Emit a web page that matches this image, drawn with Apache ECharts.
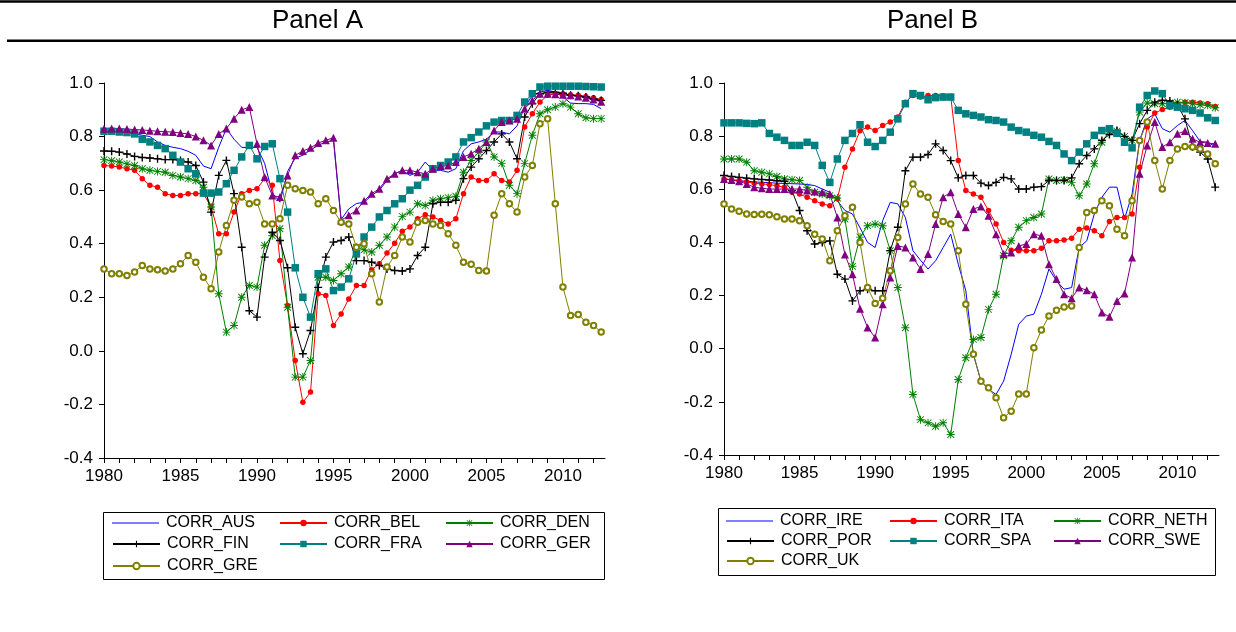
<!DOCTYPE html>
<html>
<head>
<meta charset="utf-8">
<script src="https://cdn.jsdelivr.net/npm/echarts@6/dist/echarts.min.js"></script>
<style>
  html, body { margin: 0; padding: 0; background: #fff; }
  #chart { width: 1236px; height: 632px; }
</style>
</head>
<body>
<div id="chart"></div>
<script>
// half-yearly observations, 1980.0 .. 2012.5
const years = [];
for (let i = 0; i < 66; i++) years.push(1980 + i * 0.5);

const xTickYears = [1980,1981,1982,1983,1984,1985,1986,1987,1988,1989,1990,1991,1992,1993,1994,1995,1996,1997,1998,1999,2000,2001,2002,2003,2004,2005,2006,2007,2008,2009,2010,2011,2012];
const xLabelYears = [1980, 1985, 1990, 1995, 2000, 2005, 2010];

// Panel A
const corrAus = [0.82,0.82,0.82,0.815,0.81,0.805,0.80,0.78,0.767,0.76,0.755,0.745,0.73,0.69,0.68,0.76,0.83,0.79,0.76,0.758,
  0.76,0.70,0.59,0.555,0.67,0.72,0.73,0.75,0.767,0.78,0.786,0.49,0.53,0.55,0.555,0.58,0.60,0.636,0.661,0.674,
  0.655,0.667,0.705,0.674,0.674,0.667,0.68,0.747,0.773,0.78,0.79,0.817,0.817,0.81,0.84,0.91,0.954,0.966,0.973,0.966,
  0.948,0.925,0.923,0.923,0.92,0.904];
const corrBel = [0.692,0.69,0.686,0.68,0.674,0.643,0.618,0.611,0.587,0.58,0.58,0.587,0.587,0.587,0.537,0.437,0.437,0.518,0.587,0.599,
  0.605,0.643,0.618,0.337,0.169,-0.036,-0.192,-0.154,0.213,0.207,0.095,0.138,0.194,0.244,0.244,0.303,0.325,0.365,0.402,0.447,
  0.462,0.493,0.508,0.50,0.487,0.474,0.493,0.587,0.649,0.636,0.636,0.661,0.636,0.63,0.674,0.836,0.885,0.929,0.954,0.96,
  0.96,0.956,0.954,0.95,0.945,0.938];
const corrDen = [0.714,0.71,0.705,0.698,0.692,0.68,0.674,0.67,0.667,0.655,0.649,0.643,0.636,0.611,0.537,0.213,0.07,0.095,0.20,0.244,
  0.238,0.394,0.43,0.456,0.163,-0.098,-0.098,-0.036,0.275,0.275,0.263,0.288,0.313,0.387,0.377,0.369,0.394,0.425,0.462,0.502,
  0.518,0.549,0.543,0.562,0.568,0.572,0.577,0.667,0.711,0.742,0.78,0.724,0.70,0.618,0.587,0.70,0.805,0.885,0.90,0.91,
  0.923,0.91,0.885,0.87,0.867,0.867];
const corrFin = [0.746,0.745,0.742,0.735,0.726,0.722,0.72,0.717,0.714,0.714,0.711,0.705,0.692,0.63,0.518,0.655,0.711,0.587,0.387,0.15,
  0.126,0.35,0.443,0.412,0.31,0.088,-0.011,0.076,0.237,0.35,0.406,0.412,0.425,0.337,0.337,0.331,0.319,0.306,0.30,0.298,
  0.306,0.356,0.387,0.549,0.555,0.555,0.562,0.643,0.686,0.717,0.748,0.78,0.81,0.78,0.717,0.873,0.923,0.96,0.966,0.966,
  0.962,0.954,0.952,0.948,0.94,0.935];
const corrFra = [0.82,0.82,0.817,0.815,0.81,0.79,0.78,0.767,0.755,0.73,0.705,0.68,0.661,0.589,0.589,0.593,0.624,0.674,0.724,0.767,
  0.717,0.763,0.773,0.643,0.518,0.31,0.20,0.126,0.288,0.306,0.225,0.238,0.269,0.362,0.425,0.462,0.50,0.524,0.549,0.568,
  0.60,0.618,0.649,0.68,0.692,0.705,0.724,0.78,0.796,0.817,0.84,0.854,0.86,0.86,0.879,0.929,0.96,0.985,0.988,0.988,
  0.988,0.988,0.988,0.987,0.986,0.985];
const corrGer = [0.829,0.83,0.83,0.828,0.826,0.825,0.822,0.82,0.818,0.817,0.813,0.81,0.80,0.786,0.767,0.81,0.83,0.867,0.90,0.91,
  0.773,0.649,0.58,0.574,0.655,0.73,0.746,0.758,0.776,0.786,0.796,0.487,0.506,0.524,0.56,0.587,0.605,0.643,0.661,0.674,
  0.674,0.667,0.661,0.68,0.689,0.692,0.705,0.724,0.736,0.755,0.78,0.823,0.854,0.86,0.867,0.904,0.935,0.96,0.96,0.958,
  0.956,0.954,0.95,0.945,0.938,0.93];
const corrGre = [0.306,0.288,0.288,0.281,0.294,0.319,0.306,0.303,0.298,0.306,0.325,0.356,0.331,0.275,0.232,0.369,0.468,0.562,0.574,0.549,
  0.555,0.474,0.474,0.493,0.618,0.605,0.599,0.593,0.549,0.568,0.524,0.48,0.474,0.387,0.40,0.288,0.182,0.313,0.356,0.425,
  0.406,0.48,0.487,0.474,0.468,0.437,0.394,0.331,0.323,0.30,0.298,0.506,0.587,0.549,0.518,0.649,0.692,0.848,0.867,0.549,
  0.238,0.132,0.136,0.107,0.095,0.07];

// Panel B
const corrIre = [0.639,0.635,0.632,0.63,0.628,0.626,0.625,0.623,0.622,0.621,0.62,0.618,0.614,0.601,0.589,0.557,0.52,0.507,0.455,0.40,
  0.381,0.482,0.551,0.545,0.494,0.369,0.333,0.30,0.331,0.381,0.431,0.318,0.218,-0.021,-0.122,-0.153,-0.172,-0.122,-0.021,0.092,
  0.123,0.13,0.205,0.30,0.255,0.224,0.23,0.381,0.406,0.507,0.57,0.608,0.608,0.488,0.582,0.784,0.865,0.884,0.828,0.815,
  0.84,0.859,0.821,0.78,0.777,0.761];
const corrIta = [0.639,0.636,0.633,0.628,0.623,0.62,0.618,0.613,0.608,0.589,0.582,0.57,0.557,0.545,0.538,0.564,0.683,0.752,0.82,0.834,
  0.821,0.84,0.853,0.872,0.928,0.953,0.947,0.953,0.953,0.952,0.95,0.708,0.595,0.582,0.57,0.52,0.469,0.40,0.371,0.369,
  0.369,0.369,0.378,0.406,0.406,0.409,0.416,0.45,0.454,0.444,0.425,0.479,0.494,0.494,0.507,0.683,0.834,0.887,0.90,0.909,
  0.922,0.928,0.928,0.925,0.922,0.912];
const corrNeth = [0.714,0.714,0.714,0.702,0.67,0.664,0.658,0.648,0.639,0.636,0.633,0.608,0.589,0.582,0.576,0.567,0.488,0.31,0.42,0.463,
  0.469,0.463,0.369,0.23,0.079,-0.172,-0.267,-0.279,-0.292,-0.279,-0.323,-0.116,-0.034,0.035,0.042,0.148,0.205,0.35,0.406,0.457,
  0.482,0.494,0.507,0.639,0.633,0.635,0.626,0.576,0.62,0.696,0.777,0.819,0.819,0.799,0.784,0.891,0.925,0.922,0.922,0.925,
  0.928,0.926,0.922,0.918,0.916,0.907];
const corrPor = [0.652,0.648,0.645,0.642,0.639,0.637,0.635,0.632,0.63,0.595,0.52,0.444,0.394,0.40,0.406,0.28,0.262,0.18,0.218,0.224,
  0.218,0.218,0.369,0.457,0.67,0.721,0.721,0.731,0.771,0.746,0.708,0.643,0.652,0.652,0.623,0.614,0.626,0.645,0.639,0.601,
  0.601,0.608,0.61,0.633,0.633,0.633,0.643,0.696,0.727,0.752,0.784,0.806,0.821,0.799,0.784,0.847,0.897,0.928,0.935,0.932,
  0.916,0.865,0.759,0.74,0.714,0.608];
const corrSpa = [0.85,0.85,0.85,0.848,0.847,0.85,0.81,0.796,0.784,0.765,0.765,0.777,0.765,0.69,0.626,0.714,0.784,0.81,0.843,0.777,
  0.761,0.784,0.815,0.865,0.922,0.96,0.953,0.937,0.945,0.947,0.947,0.897,0.884,0.878,0.872,0.862,0.859,0.853,0.834,0.821,
  0.815,0.803,0.796,0.78,0.765,0.733,0.708,0.74,0.771,0.803,0.821,0.828,0.811,0.777,0.756,0.909,0.953,0.97,0.96,0.915,
  0.909,0.903,0.897,0.887,0.869,0.859];
const corrSwe = [0.639,0.635,0.63,0.62,0.608,0.604,0.601,0.601,0.601,0.601,0.601,0.595,0.592,0.589,0.582,0.494,0.355,0.28,0.15,0.08,
  0.042,0.167,0.268,0.387,0.381,0.343,0.30,0.356,0.469,0.57,0.589,0.507,0.457,0.526,0.535,0.50,0.431,0.356,0.362,0.387,
  0.394,0.431,0.425,0.318,0.262,0.205,0.19,0.23,0.22,0.205,0.136,0.12,0.18,0.208,0.343,0.658,0.765,0.853,0.759,0.777,
  0.809,0.819,0.79,0.777,0.774,0.771];
const corrUk = [0.545,0.526,0.517,0.507,0.505,0.506,0.504,0.497,0.488,0.488,0.482,0.463,0.431,0.413,0.331,0.444,0.50,0.532,0.40,0.23,
  0.17,0.19,0.293,0.419,0.545,0.62,0.582,0.57,0.504,0.479,0.469,0.369,0.167,-0.021,-0.122,-0.147,-0.185,-0.26,-0.235,-0.17,
  -0.17,0.004,0.07,0.123,0.145,0.157,0.161,0.381,0.513,0.52,0.557,0.538,0.45,0.425,0.557,0.784,0.853,0.708,0.601,0.708,
  0.752,0.761,0.759,0.752,0.733,0.696];

const plusPath = 'path://M3.3,0H4.7V3.3H8V4.7H4.7V8H3.3V4.7H0V3.3H3.3Z';
const starPath = 'path://M4.4,0H5.6V10H4.4Z M0,4.4H10V5.6H0Z M1.2,0.4L9.6,8.8L8.8,9.6L0.4,1.2Z M8.8,0.4L9.6,1.2L1.2,9.6L0.4,8.8Z';
const lineIcon = 'path://M0,0H47V1.2H0Z';

const fontFamily = '"Liberation Sans", Arial, sans-serif';

// [name, values, colour, symbol, size, panel]
const seriesDefs = [
  ['CORR_AUS', corrAus, '#0000ff', 'none', 0, 0],
  ['CORR_BEL', corrBel, '#ff0000', 'circle', 5.5, 0],
  ['CORR_DEN', corrDen, '#008000', starPath, 8, 0],
  ['CORR_FIN', corrFin, '#000000', plusPath, 8, 0],
  ['CORR_FRA', corrFra, '#008080', 'rect', 7.5, 0],
  ['CORR_GER', corrGer, '#800080', 'triangle', 8, 0],
  ['CORR_GRE', corrGre, '#808000', 'emptyCircle', 5.5, 0],
  ['CORR_IRE', corrIre, '#0000ff', 'none', 0, 1],
  ['CORR_ITA', corrIta, '#ff0000', 'circle', 5.5, 1],
  ['CORR_NETH', corrNeth, '#008000', starPath, 8, 1],
  ['CORR_POR', corrPor, '#000000', plusPath, 8, 1],
  ['CORR_SPA', corrSpa, '#008080', 'rect', 7.5, 1],
  ['CORR_SWE', corrSwe, '#800080', 'triangle', 8, 1],
  ['CORR_UK', corrUk, '#808000', 'emptyCircle', 5.5, 1]
];

const series = seriesDefs.map(d => ({
  name: d[0],
  type: 'line',
  xAxisIndex: d[5],
  yAxisIndex: d[5],
  data: years.map((y, i) => [y, d[1][i]]),
  symbol: d[3],
  symbolSize: d[4],
  showSymbol: d[3] !== 'none',
  showAllSymbol: true,
  lineStyle: { color: d[2], width: 1 },
  itemStyle: d[3] === 'emptyCircle'
    ? { color: d[2], borderColor: d[2], borderWidth: 1 }
    : { color: d[2], borderWidth: 0 },
  emphasis: { disabled: true },
  animation: false
}));

// legend layout: 3 columns x 3 rows in each panel box
const legendCols = [[112, 279, 445], [726, 889, 1053]];
const legendRows = [[524, 545, 567], [522, 542, 562]];
const legends = seriesDefs.map((d, k) => {
  const p = d[5];
  const idx = k - p * 7;
  const item = d[3] === 'none' ? { name: d[0], icon: lineIcon } : { name: d[0] };
  return {
    left: legendCols[p][idx % 3],
    top: legendRows[p][Math.floor(idx / 3)] - 9,
    data: [item],
    itemWidth: 47,
    itemHeight: 8,
    padding: 0,
    selectedMode: false,
    textStyle: { fontSize: 16, fontFamily: fontFamily, color: '#000', padding: [0, 0, 0, 2] }
  };
});

function xAxis(grid) {
  return {
    type: 'value', gridIndex: grid, min: 1980, max: 2012.75,
    axisLine: { onZero: false, lineStyle: { color: '#000', width: 1 } },
    axisTick: { show: true, length: 5, customValues: xTickYears, lineStyle: { color: '#000' } },
    axisLabel: { customValues: xLabelYears, color: '#000', fontSize: 17, fontFamily: fontFamily, margin: 10, formatter: v => String(v) },
    splitLine: { show: false }
  };
}
function yAxis(grid) {
  return {
    type: 'value', gridIndex: grid, min: -0.4, max: 1.0, interval: 0.2,
    axisLine: { show: true, onZero: false, lineStyle: { color: '#000', width: 1 } },
    axisTick: { show: true, length: 5, lineStyle: { color: '#000' } },
    axisLabel: { color: '#000', fontSize: 17, fontFamily: fontFamily, margin: 11, formatter: v => v.toFixed(1) },
    splitLine: { show: false }
  };
}

const chart = echarts.init(document.getElementById('chart'), null, { renderer: 'canvas' });
chart.setOption({
  backgroundColor: '#fff',
  animation: false,
  grid: [
    { left: 104, top: 83, width: 501, height: 375 },
    { left: 724, top: 83, width: 495, height: 372 }
  ],
  xAxis: [xAxis(0), xAxis(1)],
  yAxis: [yAxis(0), yAxis(1)],
  legend: legends,
  series: series,
  graphic: [
    { type: 'line', shape: { x1: 0, y1: 1.5, x2: 1236, y2: 1.5 }, style: { stroke: '#000', lineWidth: 2.5 } },
    { type: 'line', shape: { x1: 7, y1: 40.8, x2: 1236, y2: 40.8 }, style: { stroke: '#000', lineWidth: 2.5 } },
    { type: 'text', left: 272, top: 8, style: { text: 'Panel A', font: '26px ' + fontFamily, fill: '#000' } },
    { type: 'text', left: 887, top: 8, style: { text: 'Panel B', font: '26px ' + fontFamily, fill: '#000' } },
    { type: 'rect', shape: { x: 103.5, y: 512.5, width: 501, height: 67 }, style: { fill: 'none', stroke: '#000', lineWidth: 1 } },
    { type: 'rect', shape: { x: 718.5, y: 508.5, width: 497, height: 67 }, style: { fill: 'none', stroke: '#000', lineWidth: 1 } }
  ]
});
</script>
</body>
</html>
